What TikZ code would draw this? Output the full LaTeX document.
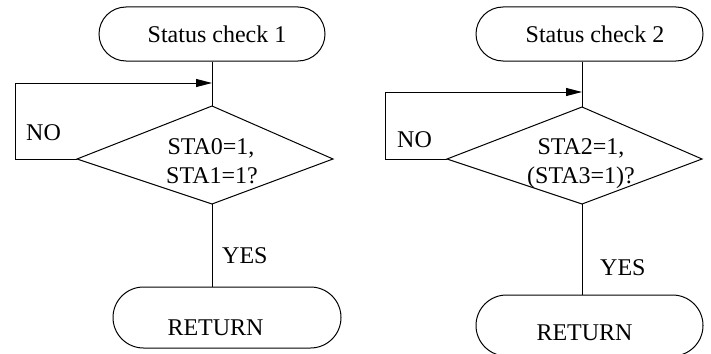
\documentclass[tikz,border=0pt]{standalone}
\usepackage{fontspec}
\setmainfont{Liberation Serif}
\usetikzlibrary{shapes.misc,arrows.meta}
\begin{document}
\begin{tikzpicture}[x=1pt,y=-1pt,
  every node/.style={font=\fontsize{24}{29}\selectfont},
  term/.style={draw,rounded rectangle,line width=1pt,inner sep=0pt},
  conn/.style={line width=1pt},
  loopback/.style={conn,-{Triangle[length=16pt,width=8pt]}},
  txt/.style={inner sep=0pt,anchor=base}]
\useasboundingbox (0,0) rectangle (711,353);

% ---------- Status check 1 ----------
\node[term,minimum width=226pt,minimum height=54pt] (s1) at (212,34) {};
\node[txt] (s1t) at (217,42) {Status check 1};
\coordinate (d1t) at (212,106);
\coordinate (d1l) at (77,159);
\coordinate (d1r) at (333,159);
\coordinate (d1b) at (212,204);
\draw[conn] (d1t) -- (d1r) -- (d1b) -- (d1l) -- cycle;
\node[txt] (q1a) at (211,154) {STA0=1,};
\node[txt] (q1b) at (212,183) {STA1=1?};
\coordinate (j1) at (212,83);
\coordinate (k1) at (15,83);
\draw[conn] (s1.south) -- (d1t);
\draw[loopback] (d1l) -| (k1) -- (j1);
\node[txt,anchor=base west] (no1) at (26,140) {NO};
\node[term,minimum width=228pt,minimum height=61pt] (r1) at (227,317.5) {};
\node[txt] (r1t) at (215.5,335) {RETURN};
\draw[conn] (d1b) -- (d1b |- r1.north);
\node[txt,anchor=base west] (yes1) at (222,263) {YES};

% ---------- Status check 2 ----------
\node[term,minimum width=227pt,minimum height=54pt] (s2) at (589.5,34) {};
\node[txt] (s2t) at (595,42) {Status check 2};
\coordinate (d2t) at (582,107);
\coordinate (d2l) at (447,159);
\coordinate (d2r) at (702,159);
\coordinate (d2b) at (582,204);
\draw[conn] (d2t) -- (d2r) -- (d2b) -- (d2l) -- cycle;
\node[txt] (q2a) at (581,154) {STA2=1,};
\node[txt] (q2b) at (581,183) {(STA3=1)?};
\coordinate (j2) at (582,92);
\coordinate (k2) at (385,92);
\draw[conn] (s2.south -| d2t) -- (d2t);
\draw[loopback] (d2l) -| (k2) -- (j2);
\node[txt,anchor=base west] (no2) at (397,147) {NO};
\node[term,minimum width=227pt,minimum height=61pt] (r2) at (589.5,325.5) {};
\node[txt] (r2t) at (584.5,340) {RETURN};
\draw[conn] (d2b) -- (d2b |- r2.north);
\node[txt,anchor=base west] (yes2) at (600,275) {YES};
\end{tikzpicture}
\end{document}
